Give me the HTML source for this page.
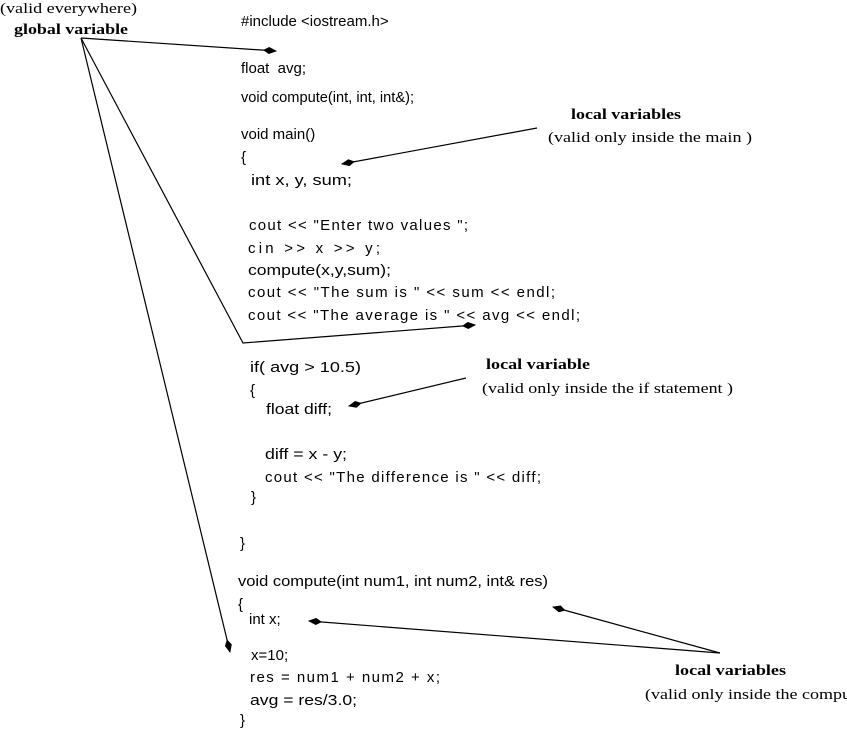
<!DOCTYPE html>
<html><head><meta charset="utf-8"><style>
html,body{margin:0;padding:0;background:#fff;width:847px;height:730px;overflow:hidden}
svg text{font-size:15px}
.c{font-family:"Liberation Sans",sans-serif}
.s{font-family:"Liberation Serif",serif}
.b{font-weight:bold}
</style></head><body>
<svg width="847" height="730" xmlns="http://www.w3.org/2000/svg">
<defs><marker id="a" markerWidth="14" markerHeight="8" refX="13" refY="4" orient="auto" markerUnits="userSpaceOnUse"><path d="M0,4 L6,0.5 L14,4 L6,7.5 Z" fill="#000"/></marker></defs>
<g stroke="#000" stroke-width="1.2" fill="none">
<line x1="81" y1="38" x2="276" y2="51" marker-end="url(#a)"/>
<polyline points="81,38 243,343 475,325" marker-end="url(#a)"/>
<line x1="81" y1="38" x2="230" y2="652" marker-end="url(#a)"/>
<line x1="537" y1="128" x2="342" y2="164" marker-end="url(#a)"/>
<line x1="466" y1="378" x2="349" y2="406" marker-end="url(#a)"/>
<line x1="720" y1="653" x2="309" y2="621" marker-end="url(#a)"/>
<line x1="720" y1="653" x2="553" y2="607" marker-end="url(#a)"/>
</g>
<g class="s">
<text x="0" y="13" textLength="137" lengthAdjust="spacingAndGlyphs">(valid everywhere)</text>
<text x="14" y="34" class="b" textLength="114" lengthAdjust="spacingAndGlyphs">global variable</text>
<text x="571" y="119" class="b" textLength="110" lengthAdjust="spacingAndGlyphs">local variables</text>
<text x="548" y="142" textLength="204" lengthAdjust="spacingAndGlyphs">(valid only inside the main )</text>
<text x="486" y="369" class="b" textLength="104" lengthAdjust="spacingAndGlyphs">local variable</text>
<text x="482" y="393" textLength="251" lengthAdjust="spacingAndGlyphs">(valid only inside the if statement )</text>
<text x="675" y="675" class="b" textLength="111" lengthAdjust="spacingAndGlyphs">local variables</text>
<text x="645" y="699" textLength="225" lengthAdjust="spacingAndGlyphs">(valid only inside the compute)</text>
</g>
<g class="c">
<text x="241" y="26">#include &lt;iostream.h&gt;</text>
<text x="241" y="73" xml:space="preserve">float  avg;</text>
<text x="241" y="102" textLength="173" lengthAdjust="spacingAndGlyphs">void compute(int, int, int&amp;);</text>
<text x="241" y="139">void main()</text>
<text x="241" y="162">{</text>
<text x="251" y="185" textLength="101" lengthAdjust="spacingAndGlyphs">int x, y, sum;</text>
<text x="249" y="230" textLength="219" lengthAdjust="spacing">cout &lt;&lt; "Enter two values ";</text>
<text x="248" y="253" textLength="132" lengthAdjust="spacing">cin &gt;&gt; x &gt;&gt; y;</text>
<text x="248" y="275" textLength="143" lengthAdjust="spacingAndGlyphs">compute(x,y,sum);</text>
<text x="248" y="297" textLength="307" lengthAdjust="spacing">cout &lt;&lt; "The sum is " &lt;&lt; sum &lt;&lt; endl;</text>
<text x="248" y="320" textLength="332" lengthAdjust="spacing">cout &lt;&lt; "The average is " &lt;&lt; avg &lt;&lt; endl;</text>
<text x="250" y="372" textLength="111" lengthAdjust="spacingAndGlyphs">if( avg &gt; 10.5)</text>
<text x="250" y="395">{</text>
<text x="266" y="414" textLength="66" lengthAdjust="spacingAndGlyphs">float diff;</text>
<text x="265" y="459" textLength="82" lengthAdjust="spacingAndGlyphs">diff = x - y;</text>
<text x="265" y="482" textLength="276" lengthAdjust="spacing">cout &lt;&lt; "The difference is " &lt;&lt; diff;</text>
<text x="251" y="502">}</text>
<text x="240" y="548">}</text>
<text x="238" y="586" textLength="310" lengthAdjust="spacingAndGlyphs">void compute(int num1, int num2, int&amp; res)</text>
<text x="238" y="609">{</text>
<text x="249" y="624">int x;</text>
<text x="251" y="660">x=10;</text>
<text x="250" y="682" textLength="190" lengthAdjust="spacing">res = num1 + num2 + x;</text>
<text x="250" y="705" textLength="107" lengthAdjust="spacingAndGlyphs">avg = res/3.0;</text>
<text x="240" y="725">}</text>
</g>
</svg>
</body></html>
